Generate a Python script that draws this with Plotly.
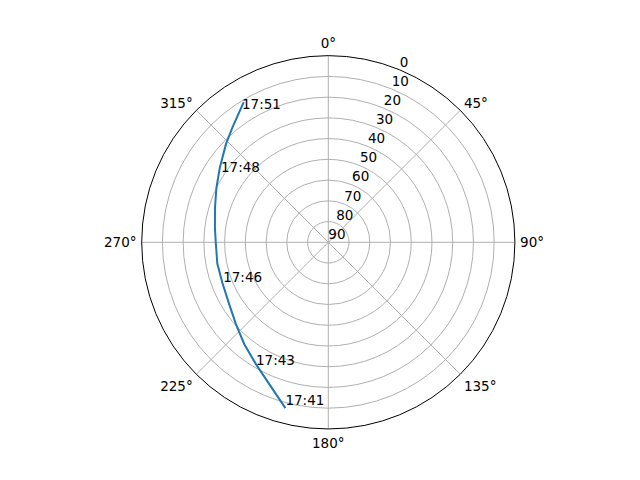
import plotly.graph_objects as go

# satellite pass track (azimuth deg, elevation deg)
az = [194.5, 202.5, 210.6, 219.5, 228.5, 238.2, 249.0, 259.2, 270.3, 277.1,
      286.8, 295.9, 304.5, 313.8, 320.2, 328.9]
el = [7.4, 15.8, 21.6, 26.3, 30.5, 33.7, 35.3, 35.5, 35.7, 34.9,
      32.9, 30.0, 26.5, 21.6, 17.8, 11.0]

label_times = ["17:41", "17:43", "17:46", "17:48", "17:51"]
label_az = [194.5, 209.9, 247.7, 302.0, 326.5]
label_el = [7.4, 20.0, 35.2, 29.0, 14.6]

angle_ticks = [0, 45, 90, 135, 180, 225, 270, 315]
angle_labels = [f"{a}°" for a in angle_ticks]
radial_ticks = [0, 10, 20, 30, 40, 50, 60, 70, 80, 90]
radial_label_angle = 22.5

fig = go.Figure()
fig.add_trace(go.Scatterpolar(
    r=el, theta=az, mode="lines",
    line=dict(color="#1f77b4", width=2),
    showlegend=False, hoverinfo="skip",
))
fig.add_trace(go.Scatterpolar(
    r=label_el, theta=label_az, mode="text", text=label_times,
    textposition="top right",
    textfont=dict(family="DejaVu Sans", size=13.5, color="black"),
    showlegend=False, hoverinfo="skip",
))
# radial tick labels (matplotlib style, at 22.5 degrees)
fig.add_trace(go.Scatterpolar(
    r=radial_ticks, theta=[radial_label_angle] * len(radial_ticks),
    mode="text", text=[str(t) for t in radial_ticks],
    textposition="top right",
    textfont=dict(family="DejaVu Sans", size=13.5, color="black"),
    showlegend=False, hoverinfo="skip", cliponaxis=False,
))

cx, cy, rad = 328.3, 242.3, 186.6
fig.update_layout(
    width=640, height=480,
    margin=dict(l=0, r=0, t=0, b=0),
    paper_bgcolor="white",
    font=dict(family="DejaVu Sans", size=13.5, color="black"),
    polar=dict(
        domain=dict(x=[(cx - rad) / 640, (cx + rad) / 640],
                    y=[1 - (cy + rad) / 480, 1 - (cy - rad) / 480]),
        bgcolor="white",
        angularaxis=dict(
            rotation=90, direction="clockwise",
            tickmode="array", tickvals=angle_ticks, ticktext=angle_labels,
            showgrid=True, gridcolor="#b0b0b0", gridwidth=0.8,
            showline=True, linecolor="black", linewidth=1,
            ticks="outside", ticklen=2, tickcolor="rgba(0,0,0,0)",
            tickfont=dict(size=13.5),
        ),
        radialaxis=dict(
            range=[90, 0], angle=67.5,
            tickmode="array", tickvals=radial_ticks,
            showgrid=True, gridcolor="#b0b0b0", gridwidth=0.8,
            showline=False, ticks="", showticklabels=False,
        ),
    ),
)

fig.write_html("out.html", config={"displayModeBar": False},
               post_script="document.body.style.margin='0';")
